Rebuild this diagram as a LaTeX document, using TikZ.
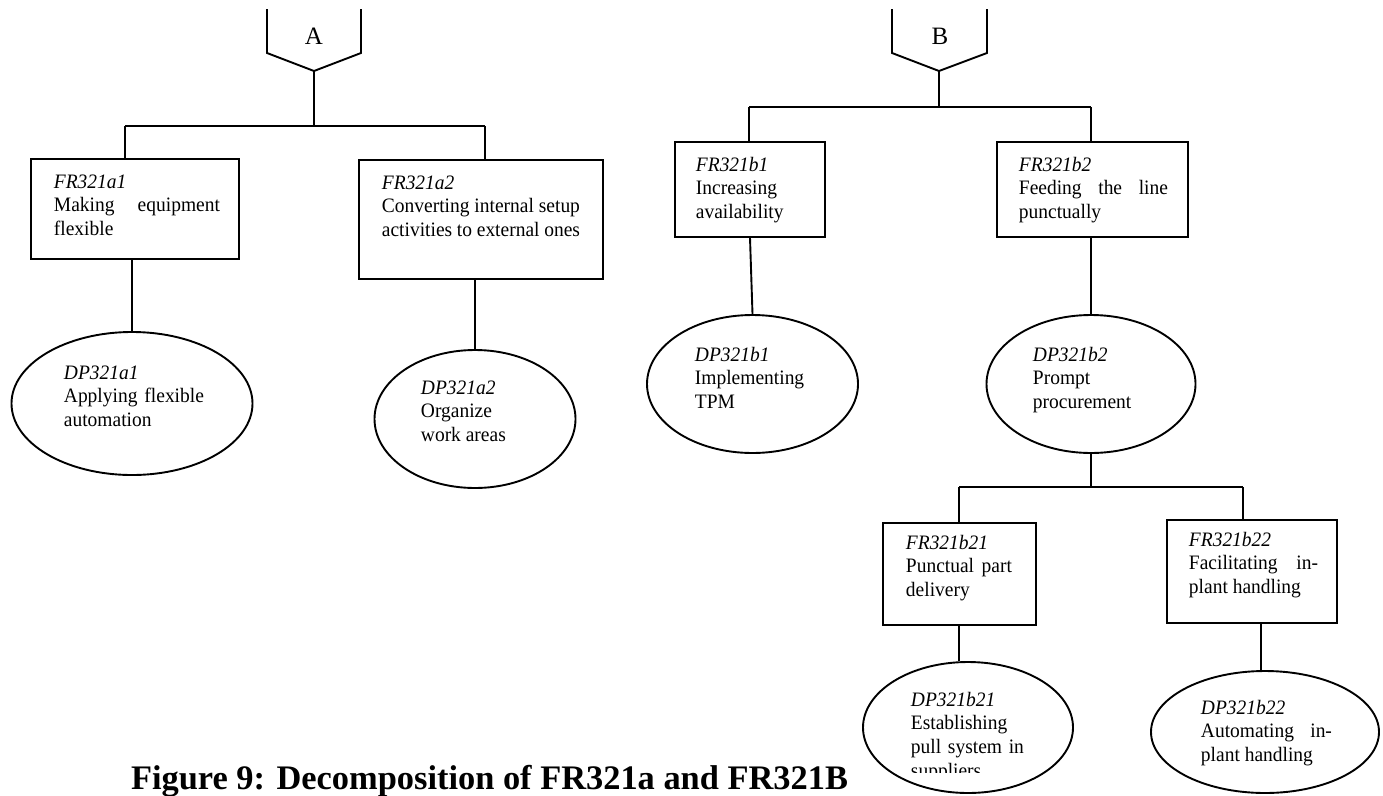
\documentclass[tikz,border=0pt]{standalone}
\usepackage{fontspec}
\setmainfont{Liberation Serif}
\newfontfamily\bodyfam{Liberation Serif}[FakeStretch=0.95]
\usetikzlibrary{shapes.geometric}

% body text: one line per \hbox, justified lines stretched to a given width
\newcommand{\bodyfont}{\bodyfam\fontsize{20.5}{23.8}\selectfont}
\newcommand{\stk}[1]{\vtop{\baselineskip=23.8pt\lineskiplimit=-100pt\lineskip=0pt #1}}
\newcommand{\rowtxt}[1]{\hbox{#1}}
\newcommand{\rowjust}[2]{\hbox to #1pt{#2}}

\begin{document}
\begin{tikzpicture}[x=1pt,y=-1pt,line width=1.9pt,
  box/.style={draw,rectangle,inner sep=0pt},
  oval/.style={draw,ellipse,inner sep=0pt},
  txt/.style={anchor=base west,inner sep=0pt,font=\bodyfont},
  tag/.style={inner sep=0pt,font=\fontsize{25}{30}\selectfont}]
\useasboundingbox (0,0) rectangle (1383,795);

% ---------------- left branch (A) ----------------
\coordinate (Apt) at (314,71);
\draw (267,9) -- (267,53) -- (Apt) -- (361,53) -- (361,9);
\node[tag] (A) at (314,36) {A};
\coordinate (Abar) at (314,126);
\coordinate (ja1) at (125,126);
\coordinate (ja2) at (485,126);

\node[box,minimum width=208pt,minimum height=100pt] (a1) at (135,209) {};
\node[box,minimum width=244pt,minimum height=119pt] (a2) at (481,219.5) {};
\node[oval,minimum width=241pt,minimum height=143pt] (ea1) at (132,403.5) {};
\node[oval,minimum width=201pt,minimum height=138pt] (ea2) at (475,419) {};

\draw (Apt) -- (Abar);
\draw (ja1) -- (ja2);
\draw (ja1) -- (ja1 |- a1.north);
\draw (ja2) -- (ja2 |- a2.north);
\draw (a1.south -| ea1.north) -- (ea1.north);
\draw (a2.south -| ea2.north) -- (ea2.north);

\node[txt] (a1t) at (53,188) {\stk{\rowtxt{\itshape FR321a1}\rowjust{166}{Making equipment}\rowtxt{flexible}}};
\node[txt] (a2t) at (381,189) {\stk{\rowtxt{\itshape FR321a2}\rowjust{198}{Converting internal setup}\rowjust{198}{activities to external ones}}};
\node[txt] (ea1t) at (63,379) {\stk{\rowtxt{\itshape DP321a1}\rowjust{140}{Applying flexible}\rowtxt{automation}}};
\node[txt] (ea2t) at (420,394) {\stk{\rowtxt{\itshape DP321a2}\rowtxt{Organize}\rowtxt{work areas}}};

% ---------------- right branch (B) ----------------
\coordinate (Bpt) at (939,71);
\draw (892,9) -- (892,53) -- (Bpt) -- (987,53) -- (987,9);
\node[tag] (B) at (940,36) {B};
\coordinate (Bbar) at (939,107);
\coordinate (jb1) at (749,107);
\coordinate (jb2) at (1091,107);

\node[box,minimum width=150pt,minimum height=95pt] (b1) at (750,189.5) {};
\node[box,minimum width=191pt,minimum height=95pt] (b2) at (1092.5,189.5) {};
\node[oval,minimum width=211pt,minimum height=138pt] (eb1) at (752.5,384) {};
\node[oval,minimum width=209pt,minimum height=138pt] (eb2) at (1091,384) {};

\draw (Bpt) -- (Bbar);
\draw (jb1) -- (jb2);
\draw (jb1) -- (jb1 |- b1.north);
\draw (jb2) -- (jb2 |- b2.north);
\draw (b1.south) -- (eb1.north);
\draw (b2.south -| eb2.north) -- (eb2.north);

\node[txt] (b1t) at (695,171) {\stk{\rowtxt{\itshape FR321b1}\rowtxt{Increasing}\rowtxt{availability}}};
\node[txt] (b2t) at (1018,171) {\stk{\rowtxt{\itshape FR321b2}\rowjust{149}{Feeding the line}\rowtxt{punctually}}};
\node[txt] (eb1t) at (694,361) {\stk{\rowtxt{\itshape DP321b1}\rowtxt{Implementing}\rowtxt{TPM}}};
\node[txt] (eb2t) at (1032,361) {\stk{\rowtxt{\itshape DP321b2}\rowtxt{Prompt}\rowtxt{procurement}}};

% ---------------- second level under DP321b2 ----------------
\coordinate (Cbar) at (1091,487);
\coordinate (jc1) at (959,487);
\coordinate (jc2) at (1243,487);

\node[box,minimum width=153pt,minimum height=102pt] (b21) at (959.5,574) {};
\node[box,minimum width=170pt,minimum height=103pt] (b22) at (1252,571.5) {};
\node[oval,minimum width=210pt,minimum height=131pt] (eb21) at (968,727.5) {};
\node[oval,minimum width=228pt,minimum height=122pt] (eb22) at (1265,732) {};

\draw (eb2.south) -- (Cbar);
\draw (jc1) -- (jc2);
\draw (jc1) -- (jc1 |- b21.north);
\draw (jc2) -- (jc2 |- b22.north);
\draw (jc1 |- b21.south) -- (jc1 |- eb21.north);
\draw ([xshift=9pt]b22.south) -- ([xshift=-4pt]eb22.north);

\node[txt] (b21t) at (905,549) {\stk{\rowtxt{\itshape FR321b21}\rowjust{106}{Punctual part}\rowtxt{delivery}}};
\node[txt] (b22t) at (1188,546) {\stk{\rowtxt{\itshape FR321b22}\rowjust{129}{Facilitating in-}\rowtxt{plant handling}}};
\begin{scope}
  \clip (850,650) rectangle (1100,772);
  \node[txt] (eb21t) at (910,706) {\stk{\rowtxt{\itshape DP321b21}\rowtxt{Establishing}\rowjust{113}{pull system in}\rowtxt{suppliers}}};
\end{scope}
\node[txt] (eb22t) at (1200,714) {\stk{\rowtxt{\itshape DP321b22}\rowjust{131}{Automating in-}\rowtxt{plant handling}}};

% ---------------- caption ----------------
\node[inner sep=0pt,anchor=base,font=\bfseries\fontsize{34.4}{40}\selectfont] (cap) at (489.5,789)
  {Figure 9: Decomposition of FR321a and FR321B};
\end{tikzpicture}
\end{document}
